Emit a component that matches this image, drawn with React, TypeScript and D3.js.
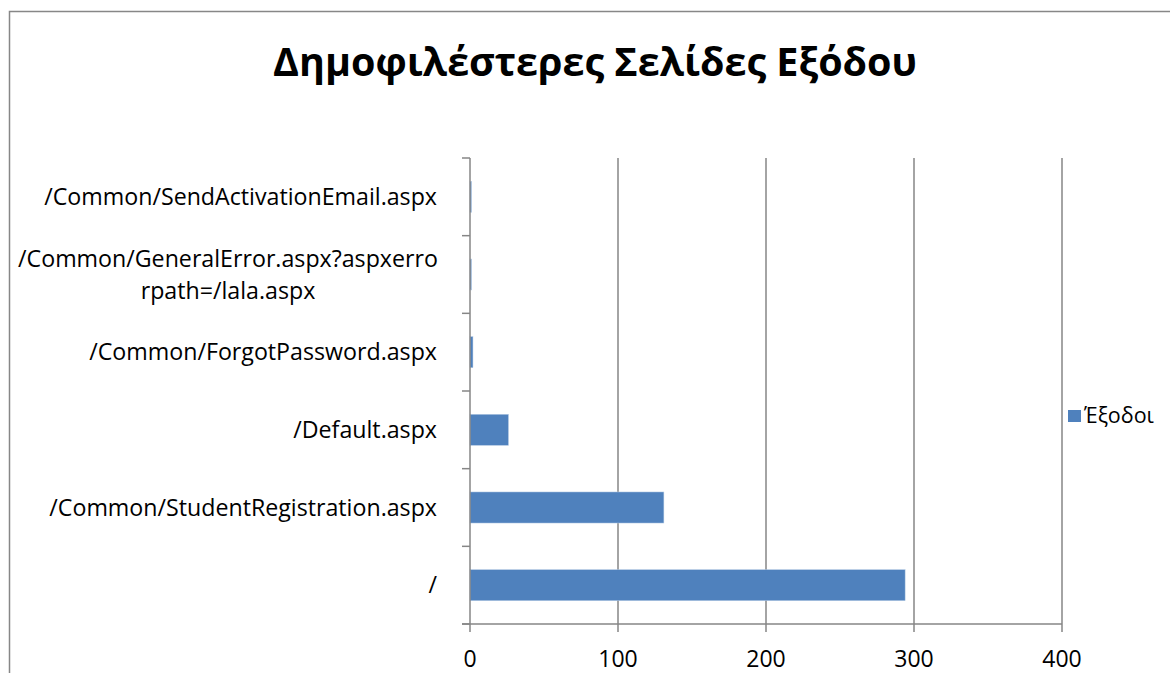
import React from 'react'
import * as d3 from 'd3'

const categories = [
  '/',
  '/Common/StudentRegistration.aspx',
  '/Default.aspx',
  '/Common/ForgotPassword.aspx',
  '/Common/GeneralError.aspx?aspxerrorpath=/lala.aspx',
  '/Common/SendActivationEmail.aspx',
]
// how the long labels wrap
const labelLines: string[][] = [
  ['/'],
  ['/Common/StudentRegistration.aspx'],
  ['/Default.aspx'],
  ['/Common/ForgotPassword.aspx'],
  ['/Common/GeneralError.aspx?aspxerro', 'rpath=/lala.aspx'],
  ['/Common/SendActivationEmail.aspx'],
]
const exits = [294, 131, 26, 2, 1, 1]
const xTicks = [0, 100, 200, 300, 400]
const seriesName = 'Έξοδοι'
const title = 'Δημοφιλέστερες Σελίδες Εξόδου'

const W = 1170
const H = 673
const PLOT = { left: 470, right: 1062, top: 158, bottom: 624 }
const FONT = '"Open Sans", sans-serif'
const BAR = '#4f81bd'
const GRID = '#868686'

export default function App() {
  const x = d3.scaleLinear().domain([0, 400]).range([PLOT.left, PLOT.right])
  const y = d3
    .scaleBand<string>()
    .domain(categories)
    .range([PLOT.bottom, PLOT.top])
    .paddingInner(0.6)
    .paddingOuter(0.3)

  const step = y.step()
  const bandEdges = d3.range(categories.length + 1).map((k) => PLOT.top + k * step)

  return (
    <svg width={W} height={H} style={{ position: 'absolute', left: 0, top: 0 }} fontFamily={FONT}>
      <rect x={0} y={0} width={W} height={H} fill="#fff" />
      {/* chart area border */}
      <rect x={9.5} y={11.5} width={W + 10} height={H + 10} fill="none" stroke="#878787" strokeWidth={1.5} />

      <text x={595} y={76} textAnchor="middle" fontSize={39.5} fontWeight="bold" fill="#000">
        {title}
      </text>

      {/* grid */}
      {xTicks.filter((t) => t > 0).map((t) => (
        <line key={'g' + t} x1={x(t)} x2={x(t)} y1={PLOT.top} y2={PLOT.bottom} stroke={GRID} strokeWidth={1.5} />
      ))}

      {/* bars */}
      {categories.map((c, i) => (
        <rect
          key={c}
          x={x(0)}
          y={y(c)}
          width={x(exits[i]) - x(0)}
          height={y.bandwidth()}
          fill={BAR}
          stroke="#b9cde5"
          strokeWidth={0.5}
        />
      ))}

      {/* axes */}
      <line x1={PLOT.left} x2={PLOT.left} y1={PLOT.top} y2={PLOT.bottom} stroke={GRID} strokeWidth={1.5} />
      <line x1={PLOT.left - 8} x2={PLOT.right} y1={PLOT.bottom} y2={PLOT.bottom} stroke={GRID} strokeWidth={1.5} />
      {bandEdges.map((e, k) => (
        <line key={'yt' + k} x1={PLOT.left - 8} x2={PLOT.left} y1={e} y2={e} stroke={GRID} strokeWidth={1.5} />
      ))}
      {xTicks.map((t) => (
        <g key={'xt' + t}>
          <line x1={x(t)} x2={x(t)} y1={PLOT.bottom} y2={PLOT.bottom + 8} stroke={GRID} strokeWidth={1.5} />
          <text x={x(t)} y={667} textAnchor="middle" fontSize={23} fill="#000">
            {t}
          </text>
        </g>
      ))}

      {/* category labels */}
      {categories.map((c, i) => {
        const lines = labelLines[i]
        const cy = (y(c) ?? 0) + y.bandwidth() / 2
        if (lines.length === 1) {
          return (
            <text key={'l' + c} x={437} y={cy} dy="0.35em" textAnchor="end" fontSize={23.2} fill="#000">
              {lines[0]}
            </text>
          )
        }
        return (
          <text key={'l' + c} x={228} y={cy - 16} textAnchor="middle" fontSize={23.2} fill="#000">
            {lines.map((ln, j) => (
              <tspan key={j} x={228} dy={j === 0 ? '0.35em' : 32}>
                {ln}
              </tspan>
            ))}
          </text>
        )
      })}

      {/* legend */}
      <rect x={1068} y={410} width={13} height={12} fill={BAR} />
      <text x={1084} y={423} fontSize={21.5} fill="#000">
        {seriesName}
      </text>
    </svg>
  )
}
